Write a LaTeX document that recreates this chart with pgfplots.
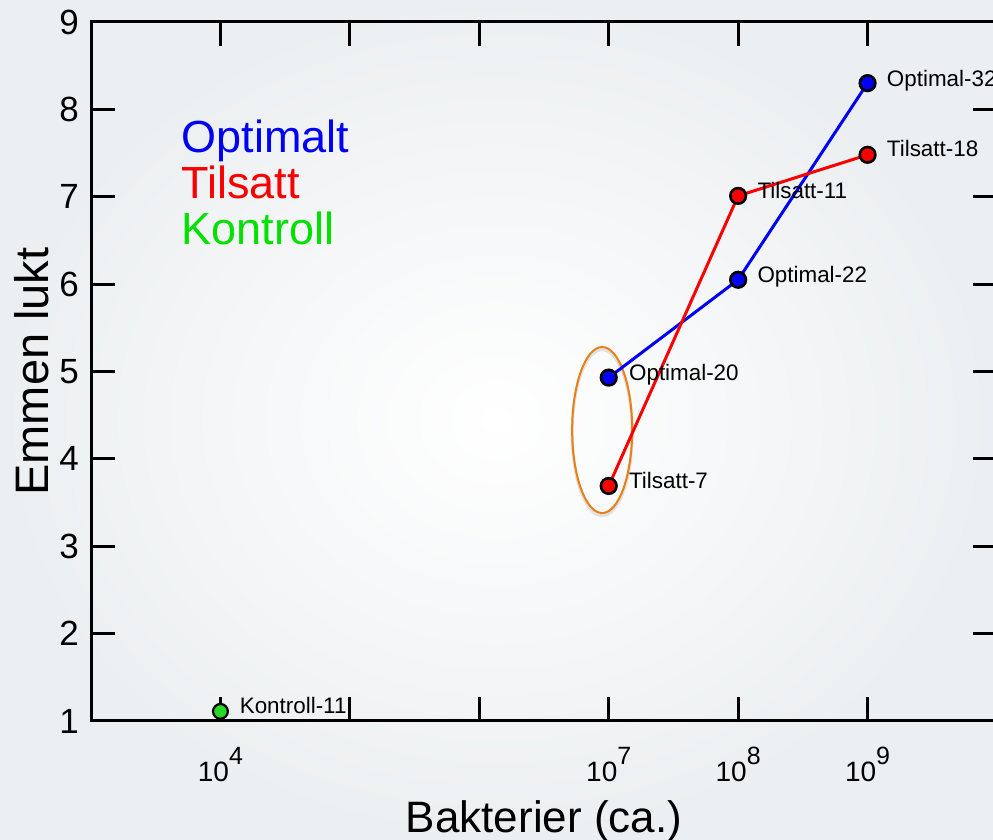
\documentclass[border=0pt]{standalone}
\usepackage{pgfplots}
\pgfplotsset{compat=1.18}
\usepackage{fontspec}
\setmainfont{Liberation Sans}
\definecolor{bgout}{RGB}{236,239,241}
\definecolor{myblue}{RGB}{0,0,245}
\definecolor{myred}{RGB}{250,0,0}
\definecolor{mygreen}{RGB}{0,225,0}
\definecolor{mkgreen}{RGB}{40,215,40}
\definecolor{myorange}{RGB}{232,128,20}
\newcommand{\tp}[1]{10\raisebox{0.62em}{\fontsize{12.5}{12.5}\selectfont #1}}
\begin{document}
\begin{tikzpicture}
\path[use as bounding box] (-45.5pt,-59.5pt) rectangle (451pt,360.5pt);
\clip (-45.5pt,-59.5pt) rectangle (451pt,360.5pt);
\shade[inner color=white, outer color=bgout] (-45.5pt,-59.5pt) rectangle (451pt,360.5pt);
\begin{axis}[
  at={(0,0)}, anchor=south west, scale only axis,
  width=453pt, height=349.5pt,
  xmode=log, xmin=1e3, xmax=1e10, ymin=1, ymax=9,
  xminorticks=false, yminorticks=false,
  xtick={1e4,1e7,1e8,1e9},
  xticklabels={\tp{4},\tp{7},\tp{8},\tp{9}},
  extra x ticks={1e5,1e6},
  extra x tick labels={},
  extra x tick style={grid=none},
  ytick={1,2,3,4,5,6,7,8,9},
  tick align=inside, major tick length=12pt,
  axis line style={line width=1.5pt},
  tick style={line width=1.5pt, black},
  /pgf/number format/assume math mode=true,
  yticklabel style={font=\fontsize{17.5}{17.5}\selectfont, xshift=-2.5pt},
  xticklabel style={font=\fontsize{14}{14}\selectfont, anchor=base, yshift=-30.5pt},
  xlabel={Bakterier (ca.)}, ylabel={Emmen lukt},
  every axis x label/.style={at={(axis description cs:0.5,-0.160)}, anchor=base, font=\fontsize{22}{22}\selectfont},
  every axis y label/.style={at={(axis description cs:-0.066,0.5)}, anchor=center, rotate=90, font=\fontsize{23.5}{23.5}\selectfont},
  clip=false,
]
\draw[black!12, line width=1.5pt] (axis cs:8.9e6,4.30) ellipse [x radius=15pt, y radius=41.5pt];
\draw[myorange, line width=1pt] (axis cs:8.9e6,4.33) ellipse [x radius=15pt, y radius=41.5pt];
\addplot[myblue, line width=1.5pt, mark=*, mark size=3.9pt, mark options={fill=myblue, draw=black, line width=1.3pt}]
  coordinates {(1e7,4.93) (1e8,6.05) (1e9,8.30)};
\addplot[myred, line width=1.5pt, mark=*, mark size=3.9pt, mark options={fill=myred, draw=black, line width=1.3pt}]
  coordinates {(1e7,3.69) (1e8,7.01) (1e9,7.48)};
\addplot[only marks, mark=*, mark size=3.7pt, mark options={fill=mkgreen, draw=black, line width=1.1pt}]
  coordinates {(1e4,1.11)};
\begin{scope}[every node/.style={anchor=base west, font=\fontsize{11.2}{11.2}\selectfont, inner sep=0pt}]
\node at (axis cs:1e9,8.30) [xshift=9.5pt, yshift=-1.5pt] {Optimal-32};
\node at (axis cs:1e9,7.48) [xshift=9.5pt, yshift=-1pt] {Tilsatt-18};
\node at (axis cs:1e8,7.01) [xshift=9.5pt, yshift=-1.5pt] {Tilsatt-11};
\node at (axis cs:1e8,6.05) [xshift=9.5pt, yshift=-1.5pt] {Optimal-22};
\node at (axis cs:1e7,4.93) [xshift=10pt, yshift=-1.5pt] {Optimal-20};
\node at (axis cs:1e7,3.69) [xshift=10pt, yshift=-1.5pt] {Tilsatt-7};
\node at (axis cs:1e4,1.11) [xshift=9.5pt, yshift=-1pt] {Kontroll-11};
\end{scope}
\begin{scope}[every node/.style={anchor=base west, font=\fontsize{22.5}{22.5}\selectfont, inner sep=0pt}]
\node[text=myblue] at (rel axis cs:0.0995,0.814) {Optimalt};
\node[text=myred] at (rel axis cs:0.0995,0.7468) {Tilsatt};
\node[text=mygreen] at (rel axis cs:0.0995,0.681) {Kontroll};
\end{scope}
\end{axis}
\end{tikzpicture}
\end{document}
